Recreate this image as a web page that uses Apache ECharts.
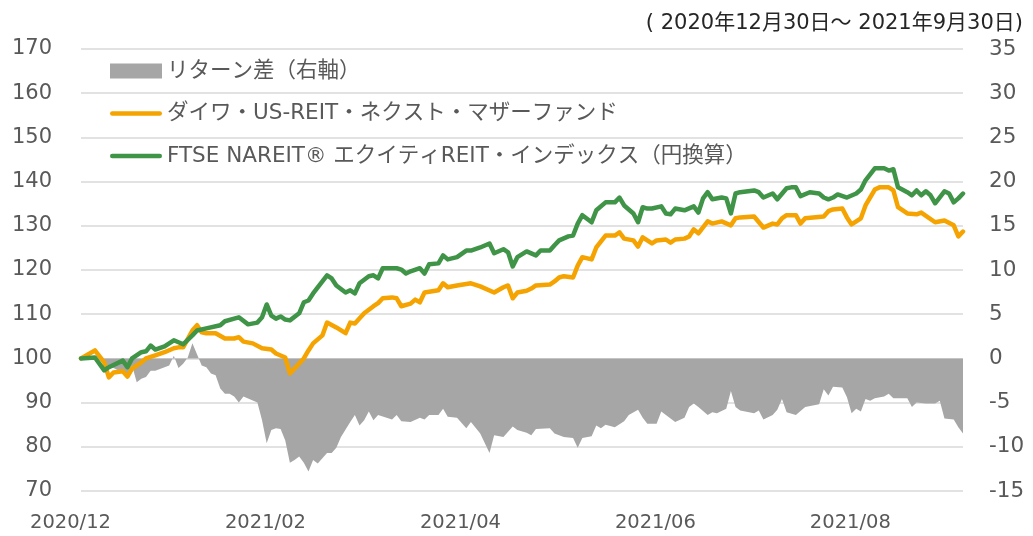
<!DOCTYPE html>
<html>
<head>
<meta charset="utf-8">
<script src="https://cdn.jsdelivr.net/npm/echarts@6/dist/echarts.min.js"></script>
<style>
html,body{margin:0;padding:0;background:#fff;}
#chart{width:1033px;height:536px;}
</style>
</head>
<body>
<div id="chart"></div>
<script>
// x = trading-day index from 2020/12/30 (0) to 2021/9/30 (190)
const tickLabels = ["2020/12", "2021/02", "2021/04", "2021/06", "2021/08"];
const tickStep = 42;
const lastDay = 190;

const seriesNames = [
  "リターン差（右軸）",
  "ダイワ・US-REIT・ネクスト・マザーファンド",
  "FTSE NAREIT® エクイティREIT・インデックス（円換算）"
];

// FTSE NAREIT Equity REIT index (JPY), left axis
const indexDays = [0,3,5,6,9,10,11,13,14,15,16,18,20,22,24,25,27,30,31,33,34,36,38,39,40,41,42,43,44,45,47,48,49,50,53,54,55,57,58,59,60,62,63,64,65,68,69,70,71,73,74,75,77,78,79,81,83,84,86,88,89,91,92,93,94,96,98,99,101,102,103,105,106,107,108,110,111,113,115,116,117,119,120,121,122,123,125,126,127,128,130,132,133,134,135,136,138,139,140,141,142,145,146,147,149,150,152,153,154,155,157,159,160,161,162,163,165,167,168,169,171,173,174,175,176,178,179,180,181,182,183,184,186,187,188,189,190];
const indexValues = [100.0,100.2,97.3,98.0,99.5,98.0,100.0,101.4,101.6,102.9,102.0,102.7,104.1,103.2,105.2,106.3,106.8,107.5,108.4,109.0,109.3,107.7,108.1,109.3,112.2,109.7,109.0,109.5,108.8,108.6,110.2,112.7,113.1,114.7,118.8,118.1,116.5,114.9,115.4,114.7,117.0,118.6,118.8,118.1,120.4,120.4,120.1,119.2,119.7,120.4,119.2,121.3,121.5,123.3,122.4,122.9,124.4,124.4,125.1,126.0,123.8,124.7,124.0,120.8,122.9,124.2,123.3,124.4,124.4,125.6,126.7,127.6,127.8,130.5,132.4,130.8,133.5,135.3,135.3,136.4,134.6,132.8,130.8,134.2,133.9,133.9,134.4,132.8,132.6,133.9,133.5,134.4,133.0,136.2,137.6,136.0,136.4,136.2,132.8,137.3,137.6,138.0,137.6,136.4,137.3,136.0,138.5,138.7,138.7,136.7,137.6,137.3,136.4,136.0,136.4,137.1,136.4,137.3,138.2,140.3,143.0,143.0,142.5,142.8,138.7,137.6,136.9,138.0,136.9,137.8,136.9,135.1,137.8,137.3,135.3,136.2,137.3];

// Daiwa US-REIT Next Mother Fund, left axis
const fundDays = [0,3,5,6,7,9,10,11,13,14,16,18,20,21,22,24,25,26,27,29,31,33,34,35,37,39,41,42,44,45,46,48,49,50,52,53,55,57,58,59,61,63,64,65,67,68,69,71,72,73,74,77,78,79,81,84,86,89,91,92,93,94,96,97,98,101,102,103,104,106,107,108,110,111,113,115,116,117,119,120,121,123,124,126,127,128,130,131,132,133,135,136,138,140,141,142,145,147,149,150,151,152,154,155,156,160,161,162,164,165,166,167,168,169,171,172,174,175,176,178,180,181,184,186,188,189,190];
const fundValues = [100.0,101.8,99.1,95.7,96.8,97.1,95.9,97.7,99.1,100.0,100.7,101.4,102.3,102.5,102.5,106.3,107.5,105.9,105.7,105.7,104.5,104.5,104.8,103.8,103.4,102.3,102.0,101.1,100.2,96.6,97.7,100.0,101.8,103.4,105.2,108.1,107.0,105.7,108.1,107.9,110.2,111.8,112.5,113.6,113.8,113.6,111.8,112.4,113.3,112.7,114.9,115.4,117.0,116.1,116.5,117.0,116.3,114.9,116.1,116.5,113.6,114.9,115.3,115.8,116.5,116.7,117.4,118.3,118.6,118.3,121.0,122.9,122.4,125.1,127.8,127.8,128.5,127.1,126.7,125.3,127.4,126.0,126.7,126.9,126.2,126.9,127.1,127.6,129.2,128.3,131.0,130.5,131.0,130.1,131.7,131.9,132.1,129.6,130.5,130.3,131.7,132.4,132.4,130.5,131.7,132.1,133.3,133.7,133.9,131.9,130.3,131.0,131.7,134.6,138.2,138.7,138.7,138.0,134.2,132.8,132.6,133.0,130.8,131.2,130.1,127.6,128.7];

// Return difference, right axis
const diffDays = [0,4,5,7,9,10,11,12,13,14,15,16,18,19,20,21,22,23,24,26,27,28,29,30,31,32,33,34,35,38,39,40,41,42,43,44,45,46,47,48,49,50,51,52,53,54,55,56,58,59,60,61,62,63,64,67,68,69,71,73,74,75,77,78,79,81,83,84,86,88,89,91,93,94,96,97,98,101,102,104,106,107,108,110,111,112,113,115,117,118,120,121,122,124,125,126,128,130,131,132,133,135,136,137,139,140,141,142,145,146,147,149,150,151,152,154,156,159,160,161,162,164,165,166,167,168,169,170,171,173,174,175,178,179,180,182,184,185,186,188,189,190];
const diffValues = [0,0,-0.6,-1.1,-1.6,-2.3,-0.8,-2.7,-2.3,-2.1,-1.4,-1.4,-1.0,-0.8,0.3,-1.1,-0.6,0.1,1.7,-0.8,-1.0,-1.7,-1.9,-3.4,-4.0,-4.0,-4.3,-5.0,-4.3,-5.0,-7.0,-9.6,-8.1,-7.9,-8.0,-9.3,-11.8,-11.5,-11.1,-11.8,-12.8,-11.5,-11.9,-11.3,-10.7,-10.7,-10.1,-8.9,-7.2,-6.4,-7.6,-7.0,-6.0,-7.0,-6.4,-6.9,-6.4,-7.1,-7.2,-6.7,-6.9,-6.4,-6.4,-5.7,-6.6,-6.7,-7.9,-7.2,-8.5,-10.7,-8.7,-8.9,-7.7,-8.1,-8.4,-8.7,-8.0,-7.9,-8.5,-8.9,-9.0,-10.1,-9.0,-8.8,-7.6,-7.9,-7.5,-7.8,-7.1,-6.4,-5.8,-6.7,-7.4,-7.4,-6.0,-6.4,-7.2,-6.7,-5.5,-5.1,-5.5,-6.4,-6.1,-6.2,-5.7,-3.7,-5.5,-5.9,-6.2,-5.9,-6.9,-6.4,-5.8,-4.6,-6.1,-6.4,-5.5,-5.2,-3.5,-4.2,-3.2,-3.3,-4.4,-6.2,-5.7,-6.0,-4.6,-4.8,-4.5,-4.3,-4.0,-4.5,-4.5,-5.5,-5.0,-5.1,-5.1,-4.8,-6.8,-6.9,-7.8,-8.5];

const pairs = (xs, ys) => xs.map((x, i) => [x, ys[i]]);

const FONT = "'DejaVu Sans', 'Noto Sans CJK JP', sans-serif";
const linePath = 'path://M2.25,0 L49.75,0 A2.25,2.25 0 0 1 49.75,4.5 L2.25,4.5 A2.25,2.25 0 0 1 2.25,0 Z';

const chart = echarts.init(document.getElementById('chart'), null, {renderer: 'canvas'});
chart.setOption({
  animation: false,
  backgroundColor: '#ffffff',
  textStyle: {fontFamily: FONT},
  title: {
    text: '( 2020年12月30日～ 2021年9月30日)',
    right: 10, top: 13, padding: 0,
    textStyle: {fontFamily: FONT, fontSize: 21, fontWeight: 'normal', color: '#262626'}
  },
  legend: {
    orient: 'vertical',
    left: 105, top: 55,
    itemWidth: 52, itemHeight: 15,
    itemGap: 20.5,
    textStyle: {fontFamily: FONT, fontSize: 21.5, color: '#595959', lineHeight: 22},
    data: [
      {name: seriesNames[0], icon: 'rect'},
      {name: seriesNames[1], icon: linePath},
      {name: seriesNames[2], icon: linePath}
    ]
  },
  grid: {left: 81, right: 70, top: 49, bottom: 45, containLabel: false},
  xAxis: {
    type: 'value', min: 0, max: lastDay, interval: tickStep,
    axisLine: {show: false, onZero: false},
    axisTick: {show: false},
    splitLine: {show: false},
    axisLabel: {
      margin: 22, fontSize: 19.5, color: '#595959', fontFamily: FONT,
      padding: [0, 21, 0, 0],
      showMaxLabel: false,
      formatter: v => (v % tickStep === 0 && tickLabels[v / tickStep]) ? tickLabels[v / tickStep] : ''
    }
  },
  yAxis: [
    {
      type: 'value', min: 70, max: 170, interval: 10,
      axisLine: {show: false}, axisTick: {show: false},
      splitLine: {lineStyle: {color: '#d9d9d9', width: 1.5}},
      axisLabel: {margin: 29, fontSize: 21, color: '#595959', fontFamily: FONT}
    },
    {
      type: 'value', min: -15, max: 35, interval: 5, position: 'right',
      axisLine: {show: false}, axisTick: {show: false},
      splitLine: {show: false},
      axisLabel: {margin: 26, fontSize: 21.5, color: '#595959', fontFamily: FONT, align: 'left'}
    }
  ],
  series: [
    {
      name: seriesNames[0], type: 'line', yAxisIndex: 1,
      data: pairs(diffDays, diffValues),
      symbol: 'none', color: '#a6a6a6',
      lineStyle: {width: 0},
      areaStyle: {color: '#a6a6a6', opacity: 1},
      z: 1
    },
    {
      name: seriesNames[1], type: 'line', yAxisIndex: 0,
      data: pairs(fundDays, fundValues),
      symbol: 'none', color: '#f5a300',
      lineStyle: {width: 4.5, cap: 'round', join: 'round'},
      z: 2
    },
    {
      name: seriesNames[2], type: 'line', yAxisIndex: 0,
      data: pairs(indexDays, indexValues),
      symbol: 'none', color: '#3f9447',
      lineStyle: {width: 4.5, cap: 'round', join: 'round'},
      z: 3
    }
  ]
});
</script>
</body>
</html>
